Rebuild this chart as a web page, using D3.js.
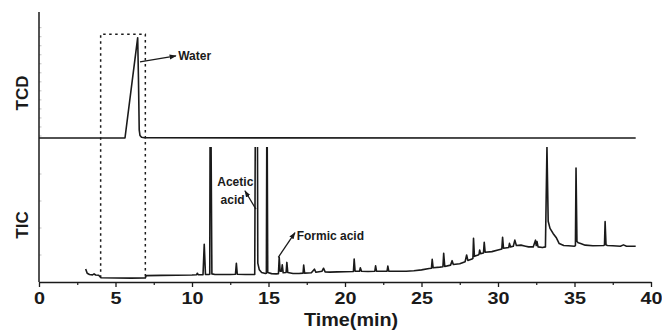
<!DOCTYPE html>
<html>
<head>
<meta charset="utf-8">
<script src="https://cdn.jsdelivr.net/npm/d3@7"></script>
<style>
  html, body { margin: 0; padding: 0; background: #fff; }
  svg { display: block; }
  text { font-family: "Liberation Sans", Arial, sans-serif; font-weight: bold; fill: #1a1a1a; }
</style>
</head>
<body>
<svg id="chart" width="662" height="331"></svg>
<script>
// ---------- data ----------
const xTicks = [0, 5, 10, 15, 20, 25, 30, 35, 40];
const xMinorTicks = [2.5, 7.5, 12.5, 17.5, 22.5, 27.5, 32.5, 37.5];
const tcdFaintTicks = [2, 11, 20, 29, 38, 47, 56, 65, 74, 83, 92, 101, 110];
const ticFaintTicks = [20, 40, 60, 80];

// TCD trace (time in min, relative signal)
const tcdTime  = [0, 5.62, 6.45, 6.5, 6.55, 6.6, 6.7, 6.9, 39];
const tcdValue = [0, 0, 100, 60, 8, 2.5, 0.8, 0.2, 0];

// TIC trace (time in min, relative signal, top of panel = 100)
const ticTime = [
  3.05, 3.15, 3.3, 3.5, 3.6, 3.7, 3.9, 4.05, 5, 6, 6.95,
  7.0, 8, 9, 10, 10.3, 10.35, 10.4, 10.72, 10.8, 10.88, 11.1, 11.16, 11.19, 11.22, 11.3, 11.5,
  12, 12.5, 12.84, 12.9, 12.96, 13.5, 14.1, 14.15, 14.27, 14.3, 14.4, 14.55, 14.8, 14.86, 14.9, 14.95,
  15.2, 15.5, 15.65, 15.7, 15.76, 15.85, 15.9, 15.96, 16.15, 16.2, 16.26, 16.6, 17.0, 17.26, 17.3, 17.36,
  17.8, 18.0, 18.1, 18.5, 18.6, 18.7, 19.0, 19.5, 20.0, 20.55, 20.6, 20.66, 20.95, 21.0, 21.08,
  21.5, 21.95, 22.0, 22.06, 22.5, 22.75, 22.8, 22.86, 23.5, 24, 24.5, 25, 25.5, 25.65, 25.7, 25.76,
  26.2, 26.4, 26.45, 26.52, 26.9, 27.0, 27.08, 27.5, 27.85, 27.95, 28.03, 28.3, 28.36, 28.4, 28.46,
  28.7, 28.76, 28.8, 28.86, 29.05, 29.1, 29.16, 29.6, 30, 30.25, 30.3, 30.36, 30.7, 30.75, 30.82,
  31.0, 31.1, 31.2, 31.5, 31.8, 32.0, 32.3, 32.45, 32.5, 32.55, 32.62, 32.9, 33.1, 33.2, 33.28,
  33.4, 33.6, 33.8, 34.0, 34.3, 34.6, 35.0, 35.06, 35.1, 35.16, 35.25, 35.4, 35.7, 36.2, 36.9, 36.96,
  37.0, 37.06, 37.15, 37.5, 38.0, 38.2, 38.4, 39.0
];
const ticValue = [
  9.6, 6.5, 5.6, 5.3, 6.0, 5.2, 5.0, 3.2, 3.0, 2.9, 3.0,
  4.7, 4.9, 5.0, 5.2, 5.4, 6.5, 5.4, 5.4, 28, 5.6, 5.6, 5.8, 150, 150, 6.0, 5.6,
  5.5, 5.6, 5.7, 13.8, 5.7, 5.6, 5.6, 150, 150, 14, 9, 7, 6.3, 6.5, 150, 7,
  6.2, 6.0, 6.2, 18.3, 8, 8, 12.8, 6.8, 7, 14.5, 7, 6.3, 6.3, 6.6, 12.5, 6.6,
  6.8, 9.5, 7.2, 8, 10.2, 7.5, 7.3, 7.5, 7.6, 7.8, 17, 8, 8, 10.5, 8,
  7.8, 8, 12, 8, 8, 8, 11.8, 8, 8, 8, 8.3, 9, 10, 10.2, 16.8, 10.5,
  11, 11.3, 21.2, 11.5, 12.5, 15.8, 13, 13.5, 15, 20, 16, 17, 17.5, 32.3, 19,
  20, 20.5, 23.7, 21, 21.5, 29.4, 22, 22.5, 23.7, 24.5, 33.1, 25, 25.5, 28.6, 26,
  26.5, 31, 27, 27.3, 26.5, 26, 26, 31, 27, 29.9, 26, 25.5, 26, 100, 45,
  39.7, 36, 33, 28.5, 27, 26.8, 26.5, 27, 84.4, 30, 29, 28.5, 27.3, 26.8, 27, 27.5,
  44.7, 27.5, 27, 26.8, 26.5, 27.5, 26.5, 26.5
];

// dotted box around the water region
const boxTime = [4.03, 6.95];
const boxTopTcd = 103.5;
const boxBottomTic = 3.2;

// annotations
const labels = [
  { text: "Water",  panel: "tcd", t: 9.1,  v: 82.5, anchor: "start",  from: [6.6, 75.8],  to: [8.95, 81.8] },
  { text: "Acetic", panel: "tic", t: 12.83, v: 74.3, anchor: "middle", from: [14.18, 54], to: [13.46, 67.6] },
  { text: "acid",   panel: "tic", t: 12.65, v: 61.3, anchor: "middle" },
  { text: "Formic acid", panel: "tic", t: 16.84, v: 34, anchor: "start", from: [15.64, 18.3], to: [16.73, 36.5] }
];

// ---------- drawing ----------
const svg = d3.select("#chart");
const ink = "#1a1a1a";

const x = d3.scaleLinear().domain([0, 40]).range([39, 651]);
const yTcd = d3.scaleLinear().domain([0, 100]).range([138, 37.7]);
const yTic = d3.scaleLinear().domain([0, 100]).range([282, 147]);

svg.append("defs").append("marker")
  .attr("id", "arrow").attr("viewBox", "0 0 10 10")
  .attr("refX", 9).attr("refY", 5)
  .attr("markerWidth", 7).attr("markerHeight", 7)
  .attr("markerUnits", "userSpaceOnUse")
  .attr("orient", "auto")
  .append("path").attr("d", "M0,1.5 L10,5 L0,8.5 Z").attr("fill", ink);

svg.select("defs").append("clipPath").attr("id", "ticClip")
  .append("rect").attr("x", 30).attr("y", yTic(100)).attr("width", 640).attr("height", 282 - yTic(100) + 2);

// faint inward ticks on left axis
svg.append("g").selectAll("line").data(tcdFaintTicks).join("line")
  .attr("x1", 39).attr("x2", 41.5)
  .attr("y1", d => yTcd(d)).attr("y2", d => yTcd(d))
  .attr("stroke", "#c4c4c4").attr("stroke-width", 1);
svg.append("g").selectAll("line").data(ticFaintTicks).join("line")
  .attr("x1", 39).attr("x2", 41.5)
  .attr("y1", d => yTic(d)).attr("y2", d => yTic(d))
  .attr("stroke", "#c4c4c4").attr("stroke-width", 1);

// dotted box
const bx0 = x(boxTime[0]), bx1 = x(boxTime[1]);
const byTop = yTcd(boxTopTcd), byBot = yTic(boxBottomTic);
svg.append("path")
  .attr("d", `M${bx0},${byBot} L${bx0},${byTop} L${bx1},${byTop} L${bx1},${byBot}`)
  .attr("fill", "none").attr("stroke", ink).attr("stroke-width", 1.5)
  .attr("stroke-dasharray", "2.5,3.5");

// TCD trace
const tcdData = tcdTime.map((t, i) => [t, tcdValue[i]]);
svg.append("path")
  .datum(tcdData)
  .attr("d", d3.line().x(d => x(d[0])).y(d => yTcd(d[1])))
  .attr("fill", "none").attr("stroke", ink).attr("stroke-width", 1.6)
  .attr("stroke-linejoin", "round");

// TIC trace
const ticData = ticTime.map((t, i) => [t, ticValue[i]]);
svg.append("path")
  .datum(ticData)
  .attr("clip-path", "url(#ticClip)")
  .attr("d", d3.line().x(d => x(d[0])).y(d => yTic(d[1])))
  .attr("fill", "none").attr("stroke", ink).attr("stroke-width", 1.6)
  .attr("stroke-linejoin", "round");

// left axis line
svg.append("line").attr("x1", 39).attr("x2", 39).attr("y1", 12).attr("y2", 282)
  .attr("stroke", ink).attr("stroke-width", 1.5);

// bottom axis
const gx = svg.append("g").attr("transform", "translate(0,282)")
  .call(d3.axisBottom(x).tickValues(xTicks).tickSize(5).tickSizeOuter(0).tickPadding(5).tickFormat(d3.format("d")));
gx.select(".domain").attr("stroke", ink).attr("stroke-width", 1.5);
gx.selectAll(".tick line").attr("stroke", ink).attr("stroke-width", 1.3);
gx.selectAll(".tick text").attr("font-size", 16.5).attr("font-family", "Liberation Sans, Arial, sans-serif")
  .attr("font-weight", "bold").attr("fill", ink).attr("transform", "scale(1.2,1)");

const gxm = svg.append("g").attr("transform", "translate(0,282)")
  .call(d3.axisBottom(x).tickValues(xMinorTicks).tickSize(3).tickFormat(""));
gxm.select(".domain").remove();
gxm.selectAll(".tick line").attr("stroke", ink).attr("stroke-width", 1.2);

// axis titles
svg.append("text").attr("transform", `translate(${x(20.4)},326) scale(1.1,1)`).attr("text-anchor", "middle")
  .attr("font-size", 18).text("Time(min)");
svg.append("text").attr("transform", "translate(28,93) rotate(-90)").attr("text-anchor", "middle")
  .attr("font-size", 17).text("TCD");
svg.append("text").attr("transform", "translate(28,225) rotate(-90)").attr("text-anchor", "middle")
  .attr("font-size", 17).text("TIC");

// annotations
labels.forEach(l => {
  const ys = l.panel === "tcd" ? yTcd : yTic;
  svg.append("text").attr("x", x(l.t)).attr("y", ys(l.v)).attr("dy", "0.36em")
    .attr("text-anchor", l.anchor).attr("font-size", 12).text(l.text);
  if (l.from) {
    svg.append("line")
      .attr("x1", x(l.from[0])).attr("y1", ys(l.from[1]))
      .attr("x2", x(l.to[0])).attr("y2", ys(l.to[1]))
      .attr("stroke", ink).attr("stroke-width", 1.3)
      .attr("marker-end", "url(#arrow)");
  }
});
</script>
</body>
</html>
